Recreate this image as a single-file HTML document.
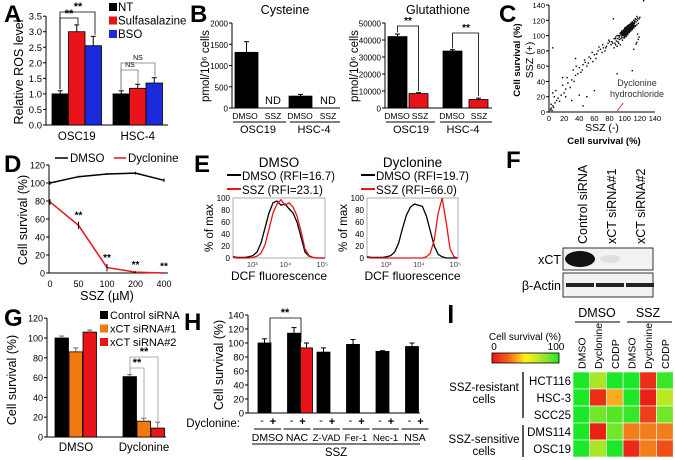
<!DOCTYPE html>
<html><head><meta charset="utf-8"><style>
html,body{margin:0;padding:0;background:#fff}
svg{display:block;font-family:"Liberation Sans",Arial,sans-serif}
</style></head><body>
<svg id="fig" width="675" height="460" viewBox="0 0 675 460" xmlns="http://www.w3.org/2000/svg"></svg>
<script>
// ---------- DATA ----------
// Panel A
const aGroups=["OSC19","HSC-4"];
const aNT=[1.0,1.0], aSSZ=[3.0,1.18], aBSO=[2.55,1.35];
const aNTe=[0.1,0.1], aSSZe=[0.22,0.13], aBSOe=[0.3,0.17];
const aTicks=[0,0.5,1.0,1.5,2.0,2.5,3.0,3.5];
// Panel B
const bCys=[1310,0,280,0], bCysE=[250,0,40,0];
const bGsh=[42000,8500,33500,5000], bGshE=[1500,500,800,800];
const bCysTicks=[0,500,1000,1500,2000];
const bGshTicks=[0,10000,20000,30000,40000,50000];
// Panel C scatter [SSZ(-), SSZ(+)]
const cX=[2,3,4,5,6,3,8,10,12,14,16,5,7,9,20,22,18,25,28,30,24,33,35,32,38,40,36,42,45,44,48,50,47,52,55,53,58,60,57,62,65,63,68,70,66,72,74,71,76,78,75,80,82,79,84,86,83,88,90,5,18,35,45,50,30,22,90,110,60,40,
86,88,90,91,92,93,94,95,96,97,98,99,100,101,102,103,104,105,106,107,108,109,110,111,112,113,114,115,116,117,118,119,120,87,89,91,93,95,97,99,101,103,105,107,109,111,113,115,117,119,92,94,96,98,100,102,104,106,108,110,112,114,116,118,98,100,102,104,106,108,110,112,114,116,90,95,100,105,110,115,88,93,97,101,105,109,113,117,96,100,104,108,112,85,125];
const cY=[3,5,2,8,6,10,12,15,18,14,22,25,20,28,25,30,35,38,32,42,45,40,48,55,50,58,60,52,62,55,65,60,68,64,70,72,66,75,78,70,80,76,82,78,85,84,80,88,86,90,84,92,88,94,90,96,92,98,100,84,45,70,8,20,15,20,50,54,28,22,
84,88,86,92,90,95,88,96,98,94,100,102,97,104,99,106,101,108,104,110,106,112,108,114,110,116,112,118,114,120,116,122,124,90,93,96,98,101,103,105,107,109,111,113,115,117,119,121,123,98,100,103,104,106,108,110,112,114,116,118,120,122,125,95,97,99,101,103,105,107,109,111,113,91,100,104,107,112,117,89,96,100,104,108,112,116,118,102,106,110,113,116,82,122];
const cTicks=[0,20,40,60,80,100,120,140];
// Panel D
const dDoses=["0","50","100","200","400"];
const dDMSO=[100,107,110,111,103], dDMSOe=[2,1,1,1.5,2];
const dDyc=[79,53,6,1,0], dDycE=[3,4,4,1,0.5];
const dTicks=[0,20,40,60,80,100,120];
// Panel E histograms (24 bins across log axis)
const e1Black=[2,1,1,1,2,4,10,25,50,75,92,95,88,90,82,75,60,35,10,3,1,0,0,0];
const e1Red=[1,0,0,0,0,1,3,8,22,48,75,90,97,88,92,85,70,45,15,4,1,0,0,0];
const e2Black=[2,1,1,1,1,2,4,10,25,50,72,85,90,88,86,70,45,20,6,2,0,0,0,0];
const e2Red=[1,0,0,0,0,0,0,0,0,0,0,0,0,0,0,2,8,30,75,100,60,15,2,0];
const eTicks=[0,20,40,60,80,100];
// Panel G
const gGroups=["DMSO","Dyclonine"];
const gCtrl=[100,61], gSi1=[86,16], gSi2=[106,9];
const gCtrlE=[2,2], gSi1E=[4,3], gSi2E=[2,6];
const gTicks=[0,20,40,60,80,100,120];
// Panel H
const hGroups=["DMSO","NAC","Z-VAD","Fer-1","Nec-1","NSA"];
const hMinus=[100,114,87,98,88,95], hMinusE=[6,8,6,7,1,5];
const hPlus=[0,93,0,0,0,0], hPlusE=[0,7,0,0,0,0];
const hTicks=[0,20,40,60,80,100,120,140];
// Panel I heatmap
const iRows=["HCT116","HSC-3","SCC25","DMS114","OSC19"];
const iCols=["DMSO","Dyclonine","CDDP","DMSO","Dyclonine","CDDP"];
const iVals=[[100,75,100,100,10,95],[100,10,45,100,5,70],[100,85,90,95,15,85],[100,5,85,35,35,35],[100,75,100,8,35,20]];

// ---------- HELPERS ----------
const S=document.getElementById('fig'),NS="http://www.w3.org/2000/svg";
function mk(tag,at,name,inter){const el=document.createElementNS(NS,tag);for(const k in at)el.setAttribute(k,at[k]);


S.appendChild(el);return el;}
function T(x,y,s,name,o){o=o||{};const el=mk('text',{x:x,y:y,'font-size':o.fs||11,'text-anchor':o.a||'start','font-weight':o.w||'normal',fill:o.c||'#000'},name);
if(o.r!==undefined)el.setAttribute('transform','rotate('+o.r+' '+x+' '+y+')');el.textContent=s;return el;}
function L(x1,y1,x2,y2,name,c,w){return mk('line',{x1:x1,y1:y1,x2:x2,y2:y2,stroke:c||'#000','stroke-width':w||1},name);}
function R(x,y,w,h,name,f,st){return mk('rect',{x:x,y:y,width:w,height:h,fill:f,stroke:st||'#000','stroke-width':0.8},name);}
function err(x,yTop,yErr,name,c){L(x,yTop,x,yErr,name,c||'#000');L(x-2.5,yErr,x+2.5,yErr,name+'-cap',c||'#000');}
function yAxis(x,ticks,fy,fmt,name,fs){L(x,fy(ticks[ticks.length-1]),x,fy(ticks[0]),name+'-line');
ticks.forEach(v=>{L(x-3,fy(v),x,fy(v),name+'-tick');T(x-4,fy(v)+3.5,fmt(v),name+'-label',{a:'end',fs:fs||10});});}
function pl(xs,ys,name,c,w){return mk('polyline',{points:xs.map((x,i)=>x+','+ys[i]).join(' '),fill:'none',stroke:c,'stroke-width':w||1.5},name);}

// ---------- PANEL A ----------
T(4,22,"A","panel-a-label",{fs:24,w:'bold'});
const yA=v=>125-v*31.1;
yAxis(46,aTicks,yA,v=>v.toFixed(1),"a-y-axis",9.5);
L(46,125,168,125,"a-x-axis");
T(23,72,"Relative ROS  level","a-y-title",{fs:12.5,a:'middle',r:-90});
const aX0=[52,113],bw=16.5;
aGroups.forEach((g,i)=>{
 const sets=[[aNT,aNTe,'#000'],[aSSZ,aSSZe,'#e8141a'],[aBSO,aBSOe,'#1b2bdc']];
 sets.forEach((s,j)=>{const x=aX0[i]+j*bw;R(x,yA(s[0][i]),bw,125-yA(s[0][i]),"a-bar",s[2]);err(x+bw/2,yA(s[0][i]),yA(s[0][i]+s[1][i]),"a-error");});
 T(aX0[i]+bw*1.5,140,g,"a-category-label",{fs:11.5,a:'middle'});
});
function brk(x1,x2,y,y1,y2,name,c){pl([x1,x1,x2,x2],[y1,y,y,y2],name,c||'#000',0.8);}
brk(60,78,18,yA(1.15),yA(3.25),"a-bracket-1");T(69,17,"**","a-sig",{fs:11,a:'middle',w:'bold'});
brk(60,95,12,yA(1.15),yA(2.9),"a-bracket-2");T(78,10,"**","a-sig",{fs:11,a:'middle',w:'bold'});
brk(121,138,70,yA(1.13),yA(1.33),"a-bracket-ns1",'#777');T(130,67,"NS","a-ns",{fs:7,a:'middle'});
brk(121,155,63,yA(1.13),yA(1.55),"a-bracket-ns2",'#777');T(138,60,"NS","a-ns",{fs:7,a:'middle'});
[["NT",'#000'],["Sulfasalazine",'#e8141a'],["BSO",'#1b2bdc']].forEach((l,i)=>{R(109,3+i*13.5,8,8,"a-legend-swatch",l[1],'none');T(118,11+i*13.5,l[0],"a-legend-entry",{fs:11.5});});

// ---------- PANEL B ----------
T(190,22,"B","panel-b-label",{fs:24,w:'bold'});
T(285,14,"Cysteine","b-cys-title",{fs:12.5,a:'middle'});
T(438,14,"Glutathione","b-gsh-title",{fs:12.5,a:'middle'});
const yC=v=>108-v/2000*85, yG=v=>108-v/50000*85;
yAxis(232,bCysTicks,yC,v=>String(v),"b-cys-y-axis",8);
yAxis(385,bGshTicks,yG,v=>String(v),"b-gsh-y-axis",8);
L(232,108,340,108,"b-cys-x-axis");L(385,108,492,108,"b-gsh-x-axis");
T(209,66,"pmol/10\u2076 cells","b-cys-y-title",{fs:11.5,a:'middle',r:-90});
T(358,66,"pmol/10\u2076 cells","b-gsh-y-title",{fs:11.5,a:'middle',r:-90});
const bCx=[235,262,289,316];
bCys.forEach((v,i)=>{if(v>0){R(bCx[i],yC(v),23,108-yC(v),"b-cys-bar",'#000');err(bCx[i]+11.5,yC(v),yC(v+bCysE[i]),"b-cys-error");}});
T(273,104,"ND","b-nd",{fs:11,a:'middle'});T(328,104,"ND","b-nd",{fs:11,a:'middle'});
const bGx=[388,409,443,469];
bGsh.forEach((v,i)=>{R(bGx[i],yG(v),19,108-yG(v),"b-gsh-bar",i%2?'#e8141a':'#000');err(bGx[i]+9.5,yG(v),yG(v+bGshE[i]),"b-gsh-error");});
brk(397.5,418.5,26,yG(44500),yG(10000),"b-gsh-bracket1");T(408,24,"**","b-sig",{fs:10,a:'middle',w:'bold'});
brk(452.5,478.5,33,yG(35000),yG(7000),"b-gsh-bracket2");T(466,31,"**","b-sig",{fs:10,a:'middle',w:'bold'});
[[245,"DMSO"],[273,"SSZ"],[300,"DMSO"],[328,"SSZ"],[397,"DMSO"],[420,"SSZ"],[452,"DMSO"],[479,"SSZ"]].forEach(p=>T(p[0],119,p[1],"b-treatment-label",{fs:8.5,a:'middle'}));
L(233,122,286,122,"b-underline");L(290,122,340,122,"b-underline");L(386,122,435,122,"b-underline");L(440,122,492,122,"b-underline");
T(258,133,"OSC19","b-cell-label",{fs:11,a:'middle'});T(314,133,"HSC-4","b-cell-label",{fs:11,a:'middle'});
T(411,133,"OSC19","b-cell-label",{fs:11,a:'middle'});T(463,133,"HSC-4","b-cell-label",{fs:11,a:'middle'});

// ---------- PANEL C ----------
T(499,22,"C","panel-c-label",{fs:24,w:'bold'});
const xS=v=>549+v*0.757, yS=v=>112-v*0.764;
L(549,112,655,112,"c-x-axis");L(549,5,549,112,"c-y-axis");
cTicks.forEach(v=>{T(xS(v),121,String(v),"c-x-tick",{fs:7.5,a:'middle'});T(545,yS(v)+3,String(v),"c-y-tick",{fs:7.5,a:'end'});L(546,yS(v),549,yS(v),"c-y-tickmark");});
cX.forEach((x,i)=>mk('rect',{x:xS(x)-0.7,y:yS(cY[i])-0.7,width:1.4,height:1.4,fill:'#000'},"c-point"));
mk('ellipse',{cx:xS(104),cy:yS(108),rx:9,ry:3.5,fill:'#111',transform:'rotate(-45 '+xS(104)+' '+yS(108)+')'},"c-dense-cluster");
L(xS(90),111,xS(98),103,"c-pointer",'#e8141a',0.8);
T(637,86,"Dyclonine","c-annotation",{fs:9,a:'middle',c:'#333'});T(637,97,"hydrochloride","c-annotation",{fs:9,a:'middle',c:'#333'});
T(520,60,"Cell survival (%)","c-y-title",{fs:9.5,a:'middle',r:-90,w:'bold'});
T(533,60,"SSZ (+)","c-y-title2",{fs:10.5,a:'middle',r:-90});
T(602,131,"SSZ (-)","c-x-title",{fs:10.5,a:'middle'});
T(604,144,"Cell survival (%)","c-x-title2",{fs:9.5,a:'middle',w:'bold'});

// ---------- PANEL D ----------
T(4,172,"D","panel-d-label",{fs:24,w:'bold'});
const yD=v=>273-v*0.9, xD=i=>50+i*28.5;
yAxis(49,dTicks,yD,v=>String(v),"d-y-axis",9);
L(49,273,168,273,"d-x-axis");
dDoses.forEach((d,i)=>{T(xD(i),287,d,"d-x-tick",{fs:9,a:'middle'});});
pl(dDoses.map((d,i)=>xD(i)),dDMSO.map(v=>yD(v)),"d-dmso-line",'#000',1.5);
pl(dDoses.map((d,i)=>xD(i)),dDyc.map(v=>yD(v)),"d-dyclonine-line",'#e8141a',1.5);
dDoses.forEach((d,i)=>{L(xD(i),yD(dDMSO[i]-dDMSOe[i]),xD(i),yD(dDMSO[i]+dDMSOe[i]),"d-dmso-error");L(xD(i),yD(dDyc[i]-dDycE[i]),xD(i),yD(dDyc[i]+dDycE[i]),"d-dyc-error");
 if(i>0)T(xD(i),yD(dDyc[i]+dDycE[i])-3,"**","d-sig",{fs:10,a:'middle',w:'bold'});});
T(27,220,"Cell survival (%)","d-y-title",{fs:12.5,a:'middle',r:-90});
T(107,300,"SSZ (\u00b5M)","d-x-title",{fs:12.5,a:'middle'});
L(55,158,68,158,"d-legend-line",'#000',1.5);T(70,162,"DMSO","d-legend-entry",{fs:11.5});
L(114,158,126,158,"d-legend-line",'#e8141a',1.5);T(128,162,"Dyclonine","d-legend-entry",{fs:11.5});

// ---------- PANEL E ----------
T(194,172,"E","panel-e-label",{fs:24,w:'bold'});
function hist(x0,x1,bl,rd,title,rb,rr,tag){
 const yE=v=>258-v*0.6;const tx=x0+(x1-x0)/2;
 T(tx,167,title,tag+"-title",{fs:13.5,a:'middle'});
 L(x0-6,175,x0+8,175,tag+"-legend-line",'#000',2);T(x0+9,180,"DMSO (RFI="+rb+")",tag+"-legend-entry",{fs:11.5});
 L(x0-6,189,x0+8,189,tag+"-legend-line",'#e8141a',2);T(x0+9,194,"SSZ (RFI="+rr+")",tag+"-legend-entry",{fs:11.5});
 mk('rect',{x:x0,y:198,width:x1-x0,height:60,fill:'none',stroke:'#999','stroke-width':0.8},tag+"-plot-frame");
 eTicks.forEach(v=>{T(x0-3,yE(v)+3,String(v),tag+"-y-tick",{fs:8,a:'end'});});
 const bx=i=>x0+i*(x1-x0)/23;
 pl(bl.map((v,i)=>bx(i)),bl.map(v=>yE(v)),tag+"-dmso-curve",'#000',1.3);
 pl(rd.map((v,i)=>bx(i)),rd.map(v=>yE(v)),tag+"-ssz-curve",'#e8141a',1.3);
 [["10\u00b3",0.21],["10\u2074",0.57],["10\u2075",0.97]].forEach(p=>T(x0+p[1]*(x1-x0),267,p[0],tag+"-x-tick",{fs:7.5,a:'middle',c:'#444'}));
 T(tx,280,"DCF fluorescence",tag+"-x-title",{fs:12,a:'middle'});
 T(x0-20,228,"% of max","e-y-title",{fs:11.5,a:'middle',r:-90});
}
hist(233,325,e1Black,e1Red,"DMSO","16.7","23.1","e-dmso");
hist(367,458,e2Black,e2Red,"Dyclonine","19.7","66.0","e-dyclonine");

// ---------- PANEL F ----------
T(506,168,"F","panel-f-label",{fs:24,w:'bold'});
[["Control siRNA",587],["xCT siRNA#1",616],["xCT siRNA#2",645]].forEach(p=>T(p[1],244,p[0],"f-lane-label",{fs:12.5,r:-90}));
R(563,248,90,22,"f-xct-blot",'#f2f2f2');R(563,273,90,24,"f-actin-blot",'#f2f2f2');
mk('ellipse',{cx:580,cy:259,rx:15,ry:8,fill:'#111'},"f-xct-band");
mk('ellipse',{cx:610,cy:259,rx:10,ry:4,fill:'#e0e0e0'},"f-xct-band-weak");
[580,610,640].forEach(x=>mk('rect',{x:x-14,y:283,width:28,height:4,fill:'#222'},"f-actin-band"));
T(561,264,"xCT","f-xct-label",{fs:12.5,a:'end'});T(561,290,"\u03b2-Actin","f-actin-label",{fs:12.5,a:'end'});

// ---------- PANEL G ----------
T(4,326,"G","panel-g-label",{fs:24,w:'bold'});
const yGg=v=>437-v*0.99;
yAxis(47,gTicks,yGg,v=>String(v),"g-y-axis",9);L(47,437,166,437,"g-x-axis");
const gX0=[55,123];
gGroups.forEach((g,i)=>{[[gCtrl,gCtrlE,'#000'],[gSi1,gSi1E,'#f07a12'],[gSi2,gSi2E,'#e8141a']].forEach((s,j)=>{const x=gX0[i]+j*14;R(x,yGg(s[0][i]),13.5,437-yGg(s[0][i]),"g-bar",s[2]);err(x+6.75,yGg(s[0][i]),yGg(s[0][i]+s[1][i]),"g-error",'#666');});
 T(gX0[i]+21,451,g,"g-category-label",{fs:11.5,a:'middle'});});
brk(130,144,368,yGg(64),yGg(20),"g-bracket1",'#999');T(137,366,"**","g-sig",{fs:11,a:'middle',w:'bold'});
brk(130,158,357,yGg(64),yGg(16),"g-bracket2",'#999');T(144,355,"**","g-sig",{fs:11,a:'middle',w:'bold'});
T(16,380,"Cell survival (%)","g-y-title",{fs:12.5,a:'middle',r:-90});
[["Control siRNA",'#000'],["xCT siRNA#1",'#f07a12'],["xCT siRNA#2",'#e8141a']].forEach((l,i)=>{R(100,311+i*13.5,8,8,"g-legend-swatch",l[1],'none');T(110,319+i*13.5,l[0],"g-legend-entry",{fs:11});});

// ---------- PANEL H ----------
T(184,330,"H","panel-h-label",{fs:24,w:'bold'});
const yH=v=>413-v*0.7;
yAxis(248,hTicks,yH,v=>String(v),"h-y-axis",9.5);L(248,413,420,413,"h-x-axis");
T(223,365,"Cell survival (%)","h-y-title",{fs:12.5,a:'middle',r:-90});
T(240,427,"Dyclonine:","h-dyclonine-label",{fs:11.5,a:'end'});
hGroups.forEach((g,i)=>{const x=258+i*29.5;
 R(x,yH(hMinus[i]),13,413-yH(hMinus[i]),"h-bar-minus",'#000');err(x+6.5,yH(hMinus[i]),yH(hMinus[i]+hMinusE[i]),"h-error");
 if(hPlus[i]>0){R(x+13,yH(hPlus[i]),12,413-yH(hPlus[i]),"h-bar-plus",'#e8141a');err(x+19,yH(hPlus[i]),yH(hPlus[i]+hPlusE[i]),"h-error");}
 T(x+4,424,"-","h-minus-sign",{fs:11,a:'middle'});T(x+15,425,"+","h-plus-sign",{fs:11,a:'middle',w:'bold'});
 L(x-4,429,x+23,429,"h-group-underline");
 T(x+9.5,441,g,"h-group-label",{fs:g.length>4?9.5:10.5,a:'middle'});});
brk(270,301,318,412,yH(101),"h-bracket");T(285,316,"**","h-sig",{fs:11,a:'middle',w:'bold'});
L(252,444,420,444,"h-ssz-underline");T(336,456,"SSZ","h-ssz-label",{fs:11.5,a:'middle'});

// ---------- PANEL I ----------
mk('rect',{x:449,y:305,width:3.5,height:18,fill:'#000'},"panel-i-label");
function col(v){const st=[[0,[232,16,20]],[40,[245,140,30]],[55,[250,235,20]],[75,[170,230,40]],[100,[30,230,40]]];
 for(let k=1;k<st.length;k++){if(v<=st[k][0]){const a=st[k-1],b=st[k],t=(v-a[0])/(b[0]-a[0]);return 'rgb('+a[1].map((c,j)=>Math.round(c+(b[1][j]-c)*t)).join(',')+')';}}return 'rgb(30,230,40)';}
const cw=16.7,ch=17;
iRows.forEach((r,ri)=>{iCols.forEach((c,ci)=>{mk('rect',{x:573+ci*cw,y:372+ri*ch,width:cw,height:ch,fill:col(iVals[ri][ci]),stroke:'#fff','stroke-width':0.6},"i-cell");});
 T(571,385+ri*ch,r,"i-row-label",{fs:11.5,a:'end'});});
iCols.forEach((c,ci)=>T(573+ci*cw+cw/2+4,369,c,"i-col-label",{fs:10.5,r:-90}));
T(597,317,"DMSO","i-dmso-header",{fs:12.5,a:'middle'});L(575,322,620,322,"i-dmso-underline");
T(648,317,"SSZ","i-ssz-header",{fs:12.5,a:'middle'});L(627,322,672,322,"i-ssz-underline");
const grd=mk('linearGradient',{id:'cb'},"i-colorbar-gradient");
[[0,'#e8141a'],[0.25,'#f5661c'],[0.5,'#fff21a'],[0.75,'#a6e62a'],[1,'#1ee628']].forEach(s=>{const st=document.createElementNS(NS,'stop');st.setAttribute('offset',s[0]);st.setAttribute('stop-color',s[1]);grd.appendChild(st);});
mk('rect',{x:492,y:353,width:67,height:10,fill:'url(#cb)',stroke:'#000','stroke-width':0.8},"i-colorbar");
T(525,340,"Cell survival (%)","i-colorbar-title",{fs:10,a:'middle'});
T(494,350,"0","i-colorbar-min",{fs:10,a:'middle'});T(556,350,"100","i-colorbar-max",{fs:10,a:'middle'});
L(523,372,523,418,"i-resistant-bracket",'#000',1.3);L(523,425,523,457,"i-sensitive-bracket",'#000',1.3);
T(484,391,"SSZ-resistant","i-group-label",{fs:11.5,a:'middle'});T(484,403,"cells","i-group-label",{fs:11.5,a:'middle'});
T(484,443,"SSZ-sensitive","i-group-label",{fs:11.5,a:'middle'});T(484,455,"cells","i-group-label",{fs:11.5,a:'middle'});
</script>
</body></html>
